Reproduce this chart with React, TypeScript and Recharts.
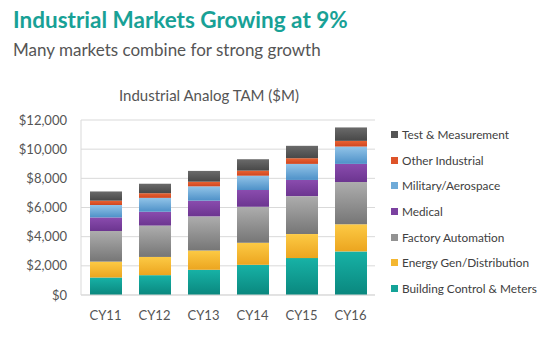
import { BarChart, Bar, XAxis, YAxis, CartesianGrid } from 'recharts'

const YEARS = ['CY11', 'CY12', 'CY13', 'CY14', 'CY15', 'CY16']

// $M per segment (bottom to top)
const BUILDING = [1200, 1360, 1730, 2070, 2530, 2990]
const ENERGY = [1090, 1250, 1320, 1520, 1650, 1860]
const FACTORY = [2100, 2150, 2340, 2460, 2600, 2900]
const MEDICAL = [930, 950, 1080, 1150, 1110, 1240]
const MILITARY = [850, 950, 980, 980, 1100, 1190]
const OTHER = [300, 320, 320, 350, 390, 390]
const TEST = [630, 650, 740, 780, 850, 920]

const Y_TICKS = [0, 2000, 4000, 6000, 8000, 10000, 12000]

const SERIES = [
  { key: 'building', name: 'Building Control & Meters', values: BUILDING, top: '#17b2a6', bottom: '#0a877e', swatch: '#14a398' },
  { key: 'energy', name: 'Energy Gen/Distribution', values: ENERGY, top: '#fcca45', bottom: '#eca51f', swatch: '#f4b731' },
  { key: 'factory', name: 'Factory Automation', values: FACTORY, top: '#adadad', bottom: '#767676', swatch: '#929292' },
  { key: 'medical', name: 'Medical', values: MEDICAL, top: '#8a4cae', bottom: '#6c3590', swatch: '#7b41a0' },
  { key: 'military', name: 'Military/Aerospace', values: MILITARY, top: '#92c4e8', bottom: '#4e91c8', swatch: '#6eaad8' },
  { key: 'other', name: 'Other Industrial', values: OTHER, top: '#ea6332', bottom: '#cf4620', swatch: '#de5329' },
  { key: 'test', name: 'Test & Measurement', values: TEST, top: '#6a6a6a', bottom: '#484848', swatch: '#555555' },
]

const data = YEARS.map((year, i) => {
  const row: Record<string, string | number> = { year }
  SERIES.forEach(s => { row[s.key] = s.values[i] })
  return row
})

const fmt = (v: number) => '$' + v.toLocaleString('en-US')

const font = 'Lato, "Open Sans", sans-serif'

export default function App() {
  return (
    <div style={{ position: 'absolute', left: 0, top: 0, width: 543, height: 338, background: '#fff', fontFamily: font }}>
      <div style={{ position: 'absolute', left: 13, top: 6, fontSize: 22.5, fontWeight: 700, color: '#18a196', whiteSpace: 'nowrap' }}>
        Industrial Markets Growing at 9%
      </div>
      <div style={{ position: 'absolute', left: 13, top: 39, fontSize: 17, color: '#555', whiteSpace: 'nowrap' }}>
        Many markets combine for strong growth
      </div>
      <div style={{ position: 'absolute', left: 0, width: 418, top: 86, textAlign: 'center', fontSize: 15, color: '#555', whiteSpace: 'nowrap' }}>
        Industrial Analog TAM ($M)
      </div>
      <BarChart
        width={543}
        height={338}
        data={data}
        margin={{ top: 120, right: 168, bottom: 0, left: 0 }}
        barSize={32}
        style={{ position: 'absolute', left: 0, top: 0 }}
      >
        <defs>
          {SERIES.map(s => (
            <linearGradient key={s.key} id={'g-' + s.key} x1="0" y1="0" x2="0" y2="1">
              <stop offset="0%" stopColor={s.top} />
              <stop offset="100%" stopColor={s.bottom} />
            </linearGradient>
          ))}
        </defs>
        <CartesianGrid vertical={false} stroke="#d9d9d9" />
        <XAxis
          dataKey="year"
          height={43}
          axisLine={{ stroke: '#d9d9d9' }}
          tickLine={false}
          tickMargin={10}
          tick={{ fill: '#555', fontSize: 13, fontFamily: font }}
        />
        <YAxis
          width={81}
          domain={[0, 12000]}
          ticks={Y_TICKS}
          tickFormatter={fmt}
          axisLine={{ stroke: '#d9d9d9' }}
          tickLine={false}
          tickMargin={8}
          tick={{ fill: '#555', fontSize: 13, fontFamily: font }}
        />
        {SERIES.map(s => (
          <Bar key={s.key} dataKey={s.key} name={s.name} stackId="tam" fill={`url(#g-${s.key})`} isAnimationActive={false} />
        ))}
      </BarChart>
      <div style={{ position: 'absolute', left: 391, top: 122, fontSize: 11.8, color: '#404040' }}>
        {[...SERIES].reverse().map(s => (
          <div key={s.key} style={{ display: 'flex', alignItems: 'center', height: 25.6, whiteSpace: 'nowrap' }}>
            <span style={{ width: 7, height: 7, background: s.swatch, marginRight: 4, display: 'inline-block' }} />
            {s.name}
          </div>
        ))}
      </div>
    </div>
  )
}
